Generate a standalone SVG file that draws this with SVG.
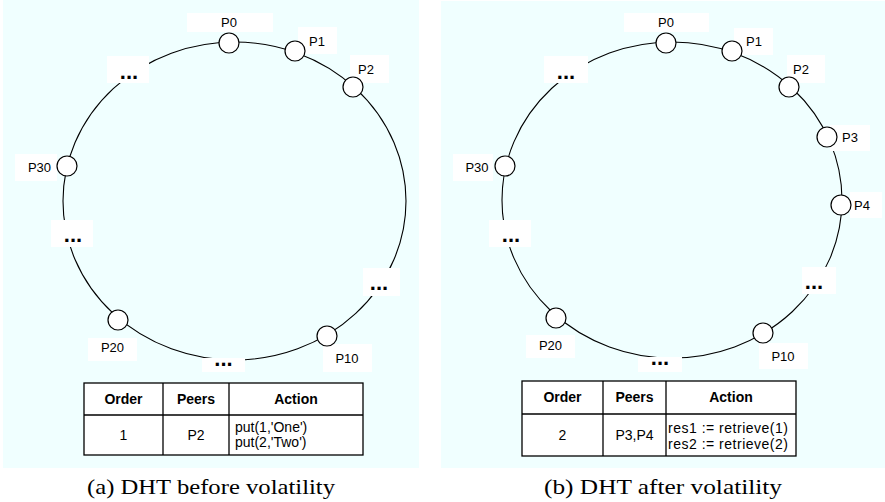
<svg xmlns="http://www.w3.org/2000/svg" width="885" height="502" viewBox="0 0 885 502">
  <style>
    .panel { fill: #F0FFFF; }
    .ring { fill: none; stroke: #000; stroke-width: 1.1; }
    .tag { fill: #fff; }
    .peer { fill: #fff; stroke: #000; stroke-width: 1.2; }
    .lbl { font-family: "Liberation Sans", Arial, sans-serif; font-size: 13px; fill: #000; text-anchor: middle; }
    .dots { font-family: "Liberation Sans", Arial, sans-serif; font-size: 22px; font-weight: bold; fill: #000; text-anchor: middle; }
    .tbl { fill: #fff; stroke: #000; stroke-width: 1.3; }
    .rule { stroke: #000; stroke-width: 1.3; }
    .th { font-family: "Liberation Sans", Arial, sans-serif; font-size: 14px; font-weight: bold; fill: #000; text-anchor: middle; }
    .td { font-family: "Liberation Sans", Arial, sans-serif; font-size: 14px; fill: #000; text-anchor: middle; }
    .tdl { font-family: "Liberation Sans", Arial, sans-serif; font-size: 14px; fill: #000; }
    .cap { font-family: "Liberation Serif", "Times New Roman", serif; font-size: 22px; fill: #000; }
  </style>

  <!-- panel backgrounds -->
  <rect class="panel" x="3" y="0" width="416" height="468"/>
  <rect class="panel" x="441" y="1" width="444" height="467"/>

  <!-- ring overlays -->
  <g id="connectors">
    <ellipse class="ring" cx="234.5" cy="201" rx="171.5" ry="159"/>
    <ellipse class="ring" cx="672" cy="200" rx="170" ry="158"/>
  </g>

  <!-- ===== left ring: before volatility ===== -->
  <g id="left-tags">
    <rect class="tag" x="187" y="13" width="86" height="19"/>
    <rect class="tag" x="298" y="27" width="39" height="27"/>
    <rect class="tag" x="350" y="55" width="39" height="28"/>
    <rect class="tag" x="107" y="56" width="42" height="27"/>
    <rect class="tag" x="15" y="154" width="42" height="27"/>
    <rect class="tag" x="51" y="220" width="42" height="27"/>
    <rect class="tag" x="363" y="268" width="37" height="28"/>
    <rect class="tag" x="88" y="338" width="49" height="23"/>
    <rect class="tag" x="202" y="358" width="43" height="14"/>
    <rect class="tag" x="323" y="344" width="49" height="28"/>
  </g>

  <g id="a-P0"><circle class="peer" cx="229" cy="43" r="10"/><text class="lbl" x="229" y="27">P0</text></g>
  <g id="a-P1"><circle class="peer" cx="295" cy="51" r="10"/><text class="lbl" x="317" y="46">P1</text></g>
  <g id="a-P2"><circle class="peer" cx="353" cy="87" r="10"/><text class="lbl" x="366" y="74">P2</text></g>
  <g id="a-P30"><circle class="peer" cx="67" cy="166" r="10"/><text class="lbl" x="39.5" y="172">P30</text></g>
  <g id="a-P20"><circle class="peer" cx="118" cy="320" r="10"/><text class="lbl" x="112.5" y="352">P20</text></g>
  <g id="a-P10"><circle class="peer" cx="327" cy="336" r="10"/><text class="lbl" x="347" y="363">P10</text></g>

  <g id="a-gaps">
    <text class="dots" x="129" y="79">...</text>
    <text class="dots" x="73" y="242">...</text>
    <text class="dots" x="379" y="290">...</text>
    <text class="dots" x="223.5" y="366">...</text>
  </g>

  <g id="a-table">
    <rect class="tbl" x="84" y="383" width="279" height="72"/>
    <line class="rule" x1="84" y1="415" x2="363" y2="415"/>
    <line class="rule" x1="163" y1="383" x2="163" y2="455"/>
    <line class="rule" x1="229" y1="383" x2="229" y2="455"/>
    <text class="th" x="123.5" y="404">Order</text>
    <text class="th" x="196" y="404">Peers</text>
    <text class="th" x="296" y="404">Action</text>
    <text class="td" x="123.5" y="440">1</text>
    <text class="td" x="196" y="440">P2</text>
    <text class="tdl" x="235" y="432">put(1,'One')</text>
    <text class="tdl" x="235" y="447">put(2,'Two')</text>
  </g>

  <text class="cap" x="87" y="494" textLength="248" lengthAdjust="spacingAndGlyphs">(a) DHT before volatility</text>

  <!-- ===== right ring: after volatility ===== -->
  <g id="right-tags">
    <rect class="tag" x="624" y="13" width="85" height="19"/>
    <rect class="tag" x="734" y="28" width="39" height="27"/>
    <rect class="tag" x="787" y="55" width="38" height="28"/>
    <rect class="tag" x="830" y="125" width="40" height="26"/>
    <rect class="tag" x="850" y="192" width="32" height="26"/>
    <rect class="tag" x="544" y="56" width="44" height="27"/>
    <rect class="tag" x="453" y="154" width="40" height="27"/>
    <rect class="tag" x="489" y="220" width="42" height="27"/>
    <rect class="tag" x="802" y="267" width="34" height="27"/>
    <rect class="tag" x="526" y="335" width="49" height="23"/>
    <rect class="tag" x="638" y="357" width="44" height="15"/>
    <rect class="tag" x="759" y="343" width="49" height="26"/>
  </g>

  <g id="b-P0"><circle class="peer" cx="666" cy="43" r="10"/><text class="lbl" x="666" y="27">P0</text></g>
  <g id="b-P1"><circle class="peer" cx="732" cy="51" r="10"/><text class="lbl" x="754" y="46">P1</text></g>
  <g id="b-P2"><circle class="peer" cx="789" cy="87" r="10"/><text class="lbl" x="801" y="74">P2</text></g>
  <g id="b-P3"><circle class="peer" cx="827" cy="137" r="10"/><text class="lbl" x="850" y="142">P3</text></g>
  <g id="b-P4"><circle class="peer" cx="841" cy="205" r="10"/><text class="lbl" x="862" y="210">P4</text></g>
  <g id="b-P30"><circle class="peer" cx="505" cy="166" r="10"/><text class="lbl" x="477" y="172">P30</text></g>
  <g id="b-P20"><circle class="peer" cx="556" cy="318" r="10"/><text class="lbl" x="550.5" y="350">P20</text></g>
  <g id="b-P10"><circle class="peer" cx="763" cy="333" r="10"/><text class="lbl" x="783" y="361">P10</text></g>

  <g id="b-gaps">
    <text class="dots" x="566" y="79">...</text>
    <text class="dots" x="511" y="242">...</text>
    <text class="dots" x="814" y="289">...</text>
    <text class="dots" x="660" y="365">...</text>
  </g>

  <g id="b-table">
    <rect class="tbl" x="522" y="381" width="274" height="75"/>
    <line class="rule" x1="522" y1="414" x2="796" y2="414"/>
    <line class="rule" x1="603" y1="381" x2="603" y2="456"/>
    <line class="rule" x1="666" y1="381" x2="666" y2="456"/>
    <text class="th" x="562.5" y="402">Order</text>
    <text class="th" x="634.5" y="402">Peers</text>
    <text class="th" x="731" y="402">Action</text>
    <text class="td" x="562.5" y="440">2</text>
    <text class="td" x="634.5" y="440">P3,P4</text>
    <text class="tdl" x="668" y="433" textLength="120">res1 := retrieve(1)</text>
    <text class="tdl" x="668" y="449" textLength="120">res2 := retrieve(2)</text>
  </g>

  <text class="cap" x="544" y="494" textLength="238" lengthAdjust="spacingAndGlyphs">(b) DHT after volatility</text>
</svg>
